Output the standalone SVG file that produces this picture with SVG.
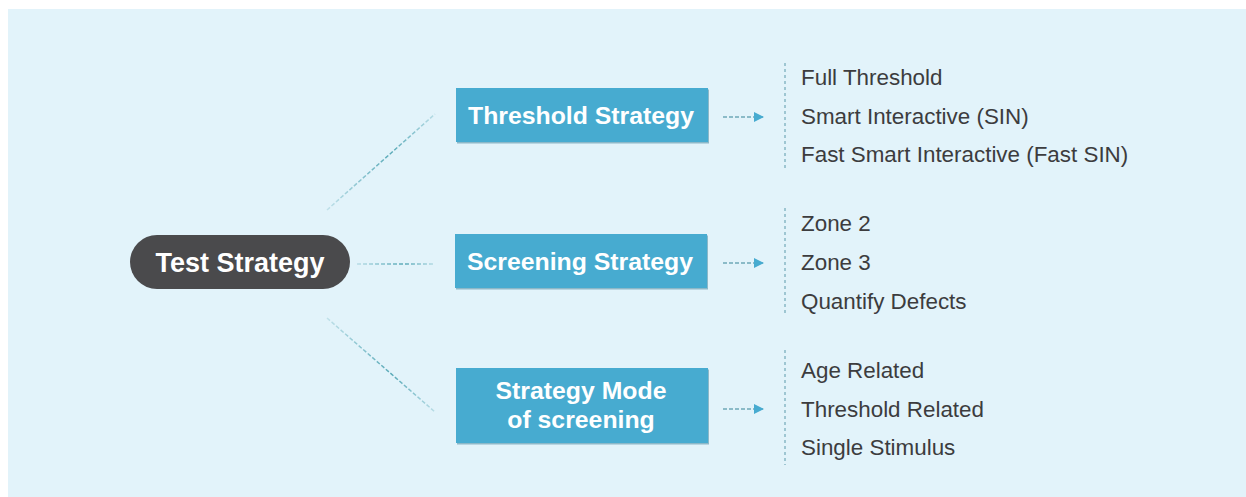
<svg xmlns="http://www.w3.org/2000/svg" width="1246" height="497" viewBox="0 0 1246 497">
<defs>
<linearGradient id="gUp" x1="327" y1="210" x2="435" y2="114" gradientUnits="userSpaceOnUse">
<stop offset="0" stop-color="#5aaab8" stop-opacity="0.25"/><stop offset="0.6" stop-color="#5aaab8" stop-opacity="1"/><stop offset="1" stop-color="#5aaab8" stop-opacity="0.3"/>
</linearGradient>
<linearGradient id="gMid" x1="357" y1="264" x2="435" y2="264" gradientUnits="userSpaceOnUse">
<stop offset="0" stop-color="#5aaab8" stop-opacity="0.3"/><stop offset="0.6" stop-color="#5aaab8" stop-opacity="1"/><stop offset="1" stop-color="#5aaab8" stop-opacity="0.3"/>
</linearGradient>
<linearGradient id="gLow" x1="327" y1="318" x2="435" y2="412" gradientUnits="userSpaceOnUse">
<stop offset="0" stop-color="#5aaab8" stop-opacity="0.25"/><stop offset="0.6" stop-color="#5aaab8" stop-opacity="1"/><stop offset="1" stop-color="#5aaab8" stop-opacity="0.3"/>
</linearGradient>
<marker id="ah" markerWidth="10" markerHeight="10" refX="9" refY="5" orient="auto" markerUnits="userSpaceOnUse">
<path d="M0,0 L10,5 L0,10 Z" fill="#47abd0"/>
</marker>
</defs>
<style>
.conn{stroke-width:1.5;stroke-dasharray:4 2;fill:none}
.arr{stroke:#6fa9b8;stroke-width:1.5;stroke-dasharray:4 2;fill:none}
.vl{stroke:#7aaebe;stroke-width:1.3;stroke-dasharray:3 3;fill:none}
.box{fill:#47abd0}
.shadow{fill:#8cb8c8}
.title{font-family:"Liberation Sans",Arial,sans-serif;font-weight:bold;font-size:24.8px;fill:#ffffff;text-anchor:middle}
.item{font-family:"Liberation Sans",Arial,sans-serif;font-size:22.4px;fill:#3c3c3e}
</style>
<rect x="8" y="9" width="1238" height="488" fill="#e2f3fa"/>
<g id="connectors">
<line class="conn" x1="327" y1="210" x2="435" y2="114" stroke="url(#gUp)"/>
<line class="conn" x1="357" y1="264" x2="435" y2="264.01" stroke="url(#gMid)"/>
<line class="conn" x1="327" y1="318" x2="435" y2="412" stroke="url(#gLow)"/>
<line class="arr" x1="723" y1="117" x2="763" y2="117" marker-end="url(#ah)"/>
<line class="arr" x1="723" y1="263" x2="763" y2="263" marker-end="url(#ah)"/>
<line class="arr" x1="723" y1="409" x2="763" y2="409" marker-end="url(#ah)"/>
<line class="vl" x1="785" y1="63" x2="785" y2="168"/>
<line class="vl" x1="785" y1="208" x2="785" y2="315"/>
<line class="vl" x1="785" y1="350" x2="785" y2="465"/>
</g>
<g id="test-strategy">
<rect x="130" y="235" width="220" height="54" rx="27" fill="#4a4a4c"/>
<text x="240" y="272" font-family="Liberation Sans,Arial,sans-serif" font-weight="bold" font-size="27px" fill="#ffffff" text-anchor="middle">Test Strategy</text>
</g>
<g id="threshold-strategy">
<rect class="shadow" x="457" y="89.5" width="252" height="54"/>
<rect class="box" x="456" y="88" width="252" height="54"/>
<text class="title" x="581" y="124">Threshold Strategy</text>
</g>
<g id="screening-strategy">
<rect class="shadow" x="456" y="235.5" width="252" height="54"/>
<rect class="box" x="455" y="234" width="252" height="54"/>
<text class="title" x="580" y="270">Screening Strategy</text>
</g>
<g id="strategy-mode">
<rect class="shadow" x="457" y="369.5" width="252" height="75"/>
<rect class="box" x="456" y="368" width="252" height="75"/>
<text class="title" x="581" y="399">Strategy Mode</text>
<text class="title" x="581" y="428">of screening</text>
</g>
<g id="threshold-items">
<text class="item" x="801" y="85">Full Threshold</text>
<text class="item" x="801" y="124">Smart Interactive (SIN)</text>
<text class="item" x="801" y="162">Fast Smart Interactive (Fast SIN)</text>
</g>
<g id="screening-items">
<text class="item" x="801" y="231">Zone 2</text>
<text class="item" x="801" y="270">Zone 3</text>
<text class="item" x="801" y="309">Quantify Defects</text>
</g>
<g id="mode-items">
<text class="item" x="801" y="378">Age Related</text>
<text class="item" x="801" y="417">Threshold Related</text>
<text class="item" x="801" y="455">Single Stimulus</text>
</g>
</svg>
